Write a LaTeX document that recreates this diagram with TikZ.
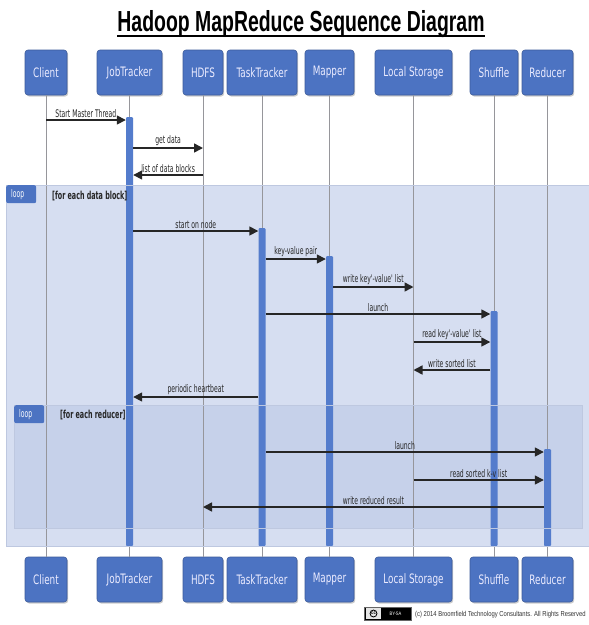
\documentclass[tikz,border=0pt]{standalone}
\usepackage{fontspec}
\usetikzlibrary{arrows.meta,shadows}
\newfontfamily\titlefont[FakeStretch=0.67]{Liberation Sans}
\newfontfamily\seqfont[FakeStretch=0.58]{DejaVu Sans}
\newfontfamily\actorfont[FakeStretch=0.68]{DejaVu Sans}
\newfontfamily\notefont[FakeStretch=0.815]{Liberation Sans}
\definecolor{seqblue}{RGB}{76,115,194}
\definecolor{barblue}{RGB}{84,124,204}
\definecolor{loopfill}{RGB}{214,222,241}
\definecolor{innerfill}{RGB}{198,209,234}
\definecolor{loopline}{RGB}{190,200,224}
\definecolor{lifegray}{RGB}{150,150,155}

\begin{document}
\begin{tikzpicture}[x=1pt,y=-1pt,
actor/.style={fill=seqblue,draw=seqblue!80!black,line width=.6pt,rounded corners=3pt,minimum height=45pt,inner sep=0pt,text=white!92!blue,font=\actorfont\fontsize{13}{13}\selectfont,drop shadow={shadow xshift=1.2pt,shadow yshift=-1.5pt,opacity=.4}},
bar/.style={fill=barblue,minimum width=7pt,inner sep=0pt,anchor=north,rounded corners=1pt},
life/.style={draw=lifegray,line width=.8pt},
msg/.style={-{Triangle[length=9pt,width=9pt]},line width=1.5pt,draw=black!85},
lbl/.style={above,inner sep=1.5pt,font=\seqfont\fontsize{10.5}{10.5}\selectfont,text=black!85},
frame/.style={draw=loopline,line width=1pt},
looptab/.style={fill=seqblue,rounded corners=2pt,text width=20pt,align=left,inner xsep=5pt,inner ysep=0pt,minimum height=18pt,anchor=north west,text=white,font=\seqfont\fontsize{10.5}{10.5}\selectfont},
guard/.style={anchor=west,inner sep=0pt,text=black!85,font=\seqfont\bfseries\fontsize{11}{11}\selectfont}]

\useasboundingbox[fill=white](0,0) rectangle (589,625);
\node[anchor=base,inner sep=0pt,font=\titlefont\bfseries\fontsize{29}{29}\selectfont] (title) at (301,31.5) {Hadoop MapReduce Sequence Diagram};
\draw[line width=2pt] ([yshift=-4.5pt]title.base west) -- ([yshift=-4.5pt]title.base east);

% loop frames
\fill[loopfill] (6,185) rectangle (595,546);
\fill[innerfill] (14,405) rectangle (582,528);

% participants
\node[actor,minimum width=42pt] (client) at (46,72.5) {Client};
\node[actor,minimum width=65pt] (jobtr) at (129.5,72.5) {JobTracker};
\node[actor,minimum width=40pt] (hdfs) at (203,72.5) {HDFS};
\node[actor,minimum width=70pt] (tasktr) at (262,72.5) {TaskTracker};
\node[actor,minimum width=49pt] (mapper) at (329.5,72.5) {Mapper};
\node[actor,minimum width=77pt] (locst) at (413.5,72.5) {Local Storage};
\node[actor,minimum width=48pt] (shuffle) at (494,72.5) {Shuffle};
\node[actor,minimum width=51pt] (reducer) at (547.5,72.5) {Reducer};
\node[actor,minimum width=42pt] (client-b) at (46,579.5) {Client};
\node[actor,minimum width=65pt] (jobtr-b) at (129.5,579.5) {JobTracker};
\node[actor,minimum width=40pt] (hdfs-b) at (203,579.5) {HDFS};
\node[actor,minimum width=70pt] (tasktr-b) at (262,579.5) {TaskTracker};
\node[actor,minimum width=49pt] (mapper-b) at (329.5,579.5) {Mapper};
\node[actor,minimum width=77pt] (locst-b) at (413.5,579.5) {Local Storage};
\node[actor,minimum width=48pt] (shuffle-b) at (494,579.5) {Shuffle};
\node[actor,minimum width=51pt] (reducer-b) at (547.5,579.5) {Reducer};

% lifelines
\draw[life] (client.south) -- (client-b.north);
\draw[life] (jobtr.south) -- (jobtr-b.north);
\draw[life] (hdfs.south) -- (hdfs-b.north);
\draw[life] (tasktr.south) -- (tasktr-b.north);
\draw[life] (mapper.south) -- (mapper-b.north);
\draw[life] (locst.south) -- (locst-b.north);
\draw[life] (shuffle.south) -- (shuffle-b.north);
\draw[life] (reducer.south) -- (reducer-b.north);

% message rows
\coordinate (m1) at (0,120);  \coordinate (m2) at (0,148);  \coordinate (m3) at (0,175);
\coordinate (m4) at (0,231);  \coordinate (m5) at (0,259);  \coordinate (m6) at (0,287);
\coordinate (m7) at (0,314);  \coordinate (m8) at (0,342);  \coordinate (m9) at (0,370);
\coordinate (m10) at (0,397); \coordinate (m11) at (0,452); \coordinate (m12) at (0,480);
\coordinate (m13) at (0,507);

% activations
\node[bar,minimum height=429pt] (jtbar) at (jobtr |- 0,117) {};
\node[bar,minimum height=318pt] (ttbar) at (tasktr |- 0,228) {};
\node[bar,minimum height=290pt] (mpbar) at (mapper |- 0,256) {};
\node[bar,minimum height=235pt] (sfbar) at (shuffle |- 0,311) {};
\node[bar,minimum height=97pt] (rdbar) at (reducer |- 0,449) {};

\draw[frame] (6,185) rectangle (595,546);
\draw[frame] (14,405) rectangle (582,528);
\node[looptab] (loop1) at (6,185) {loop};
\node[guard] (guard1) at (52,196) {[for each data block]};
\node[looptab] (loop2) at (14,405) {loop};
\node[guard] (guard2) at (60,415) {[for each reducer]};

% messages
\draw[msg] (client |- m1) -- node[lbl]{Start Master Thread} (jtbar.west |- m1);
\draw[msg] (jtbar.east |- m2) -- node[lbl]{get data} (hdfs |- m2);
\draw[msg] (hdfs |- m3) -- node[lbl]{list of data blocks} (jtbar.east |- m3);
\draw[msg] (jtbar.east |- m4) -- node[lbl]{start on node} (ttbar.west |- m4);
\draw[msg] (ttbar.east |- m5) -- node[lbl]{key-value pair} (mpbar.west |- m5);
\draw[msg] (mpbar.east |- m6) -- node[lbl]{write key'-value' list} (locst |- m6);
\draw[msg] (ttbar.east |- m7) -- node[lbl]{launch} (sfbar.west |- m7);
\draw[msg] (locst |- m8) -- node[lbl]{read key'-value' list} (sfbar.west |- m8);
\draw[msg] (sfbar.west |- m9) -- node[lbl]{write sorted list} (locst |- m9);
\draw[msg] (ttbar.west |- m10) -- node[lbl]{periodic heartbeat} (jtbar.east |- m10);
\draw[msg] (ttbar.east |- m11) -- node[lbl]{launch} (rdbar.west |- m11);
\draw[msg] (locst |- m12) -- node[lbl]{read sorted k-v list} (rdbar.west |- m12);
\draw[msg] (rdbar.west |- m13) -- node[lbl]{write reduced result} (hdfs |- m13);

% licence badge and note
\node[draw=black!60,fill=black,minimum width=47pt,minimum height=13pt,inner sep=0pt] (badge) at (387.5,613.5) {};
\node[fill=black!10,minimum width=15pt,minimum height=11pt,inner sep=0pt] (badgecc) at (373.5,613.5) {};
\node[circle,draw=black,line width=.8pt,inner sep=.6pt,font=\notefont\bfseries\fontsize{5}{5}\selectfont] (ccmark) at (badgecc) {cc};
\node[text=white,inner sep=0pt,font=\notefont\fontsize{5}{5}\selectfont] (bysa) at (395.5,613.5) {BY-SA};
\node[anchor=base west,inner sep=0pt,font=\notefont\fontsize{7.2}{7.2}\selectfont,text=black!80] (note) at (415,616.5) {(c) 2014 Broomfield Technology Consultants. All Rights Reserved};
\end{tikzpicture}
\end{document}
